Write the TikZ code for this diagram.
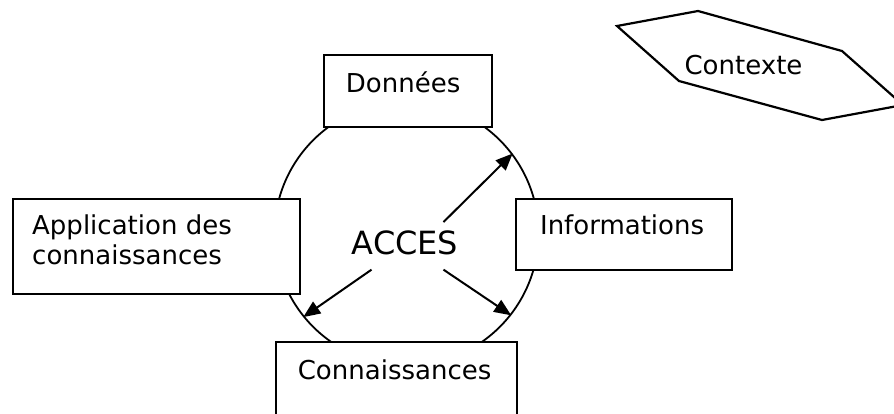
\documentclass[tikz,border=0pt]{standalone}
\usepackage{fontspec}
\setmainfont{DejaVu Sans}
\usetikzlibrary{arrows.meta}
\tikzset{
  box/.style={draw, line width=2.2pt, fill=white, inner sep=0pt, anchor=north west},
  lbl/.style={inner sep=0pt, anchor=base, font=\fontsize{26}{30}\selectfont},
  acc/.style={line width=2pt, -{Triangle[length=17pt,width=14pt]}}
}
\begin{document}
\begin{tikzpicture}[x=1pt,y=-1pt]
      \useasboundingbox (0,0) rectangle (894,413);
      \clip (0,0) rectangle (894,413);
      \node[draw, circle, line width=1.8pt, minimum size=264pt, inner sep=0pt] (circ) at (406.5,233.5) {};
      \node[box, minimum width=168pt, minimum height=72pt] (donnees) at (323,54) {};
      \node[box, minimum width=216pt, minimum height=71pt] (infos) at (515,198) {};
      \node[box, minimum width=287pt, minimum height=95pt] (appli) at (12,198) {};
      \node[box, minimum width=241pt, minimum height=90pt] (conn) at (275,341) {};
      \draw[line width=2.2pt, line join=miter]
        (617,26) -- (698,11) -- (842,51) -- (903,105) -- (822,120) -- (679,81) -- cycle;
      \node[lbl] (tdonnees) at ([xshift=-5pt,yshift=-38pt]donnees.north) {Données};
      \node[lbl] (tinfos) at ([xshift=-2pt,yshift=-36pt]infos.north) {Informations};
      \node[lbl] (tconn) at ([xshift=-2pt,yshift=-38pt]conn.north) {Connaissances};
      \node[lbl, anchor=north west, align=left] (tappli) at ([xshift=20pt,yshift=-17pt]appli.north west)
        {Application des\\connaissances};
      \node[lbl] (contexte) at (743.5,74) {Contexte};
      \node[lbl, font=\fontsize{32}{36}\selectfont] (acces) at (405,254) {ACCES};
      \draw[acc] ([xshift=-15pt,yshift=8pt]acces.north east) -- (circ.37);
      \draw[acc] ([xshift=20pt,yshift=-15pt]acces.south west) -- (circ.219);
      \draw[acc] ([xshift=-15pt,yshift=-15pt]acces.south east) -- (circ.322);
    \end{tikzpicture}
\end{document}
